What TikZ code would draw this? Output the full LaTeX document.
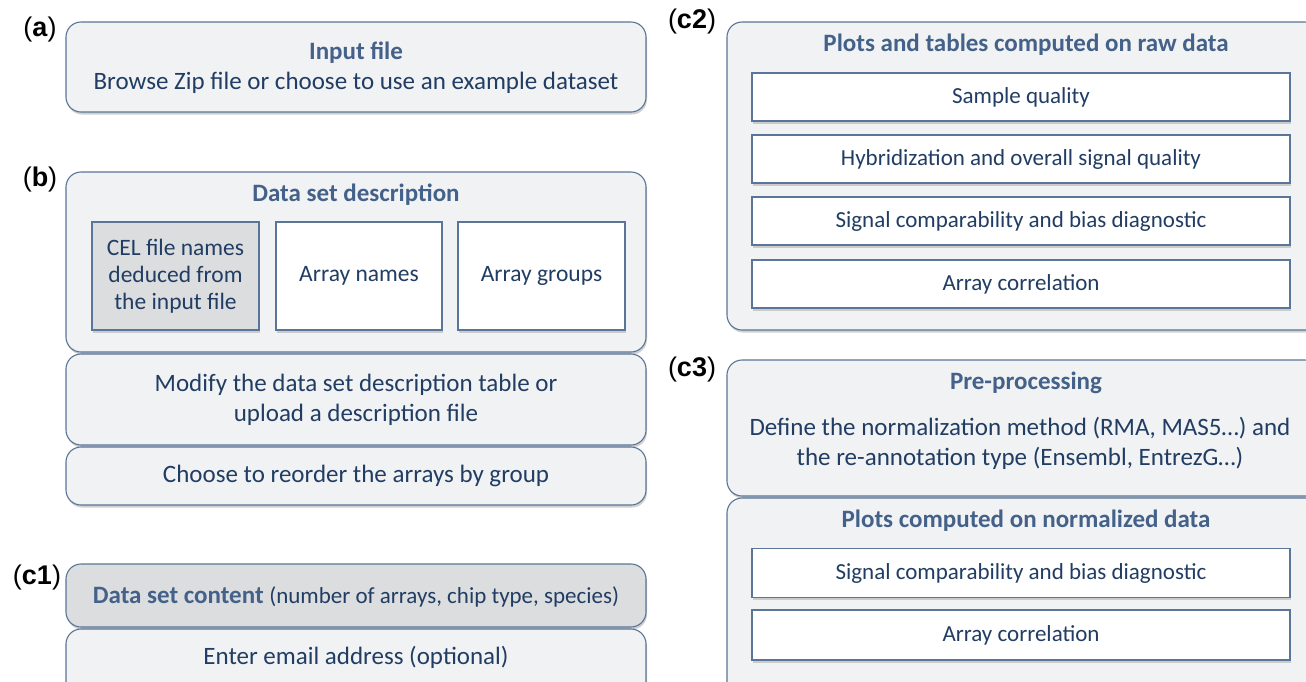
\documentclass[tikz,border=0pt]{standalone}
\usepackage{fontspec}
\setmainfont{Carlito}
\newfontfamily\labfont{Liberation Sans}
\usetikzlibrary{shadows}
\definecolor{edge}{HTML}{5A7597}
\definecolor{panel}{HTML}{F1F2F3}
\definecolor{greyfill}{HTML}{DCDDDF}
\definecolor{titlecol}{HTML}{44618A}
\definecolor{textcol}{HTML}{213D63}
\tikzset{
  x=1pt, y=-1pt,
  panelbox/.style={draw=edge, line width=1.1pt, fill=panel, rounded corners=15pt,
    drop shadow={shadow xshift=1pt, shadow yshift=-2.5pt, fill=black!30, opacity=0.6},
    inner sep=0pt},
  itembox/.style={draw=edge, line width=1.1pt, fill=white,
    drop shadow={shadow xshift=1pt, shadow yshift=-2.5pt, fill=black!30, opacity=0.6},
    inner sep=0pt},
  title/.style={text=titlecol, font=\fontsize{25}{30}\selectfont\bfseries, inner sep=0pt},
  body/.style={text=textcol, font=\fontsize{25}{30}\selectfont, align=center, inner sep=0pt},
  tight/.style={text=textcol, font=\fontsize{23.5}{27}\selectfont, align=center, inner sep=0pt},
  small/.style={text=textcol, font=\fontsize{23}{26}\selectfont, align=center, inner sep=0pt},
  panellabel/.style={font=\labfont\fontsize{27}{30}\selectfont, inner sep=0pt},
}
\begin{document}
\begin{tikzpicture}
\useasboundingbox[fill=white] (0,0) rectangle (1306,681);
\clip (0,0) rectangle (1306,681);

% (a) input file
\node[panellabel] (la) at (40,30) {(\textbf{a})};
\node[panelbox, minimum width=580pt, minimum height=90pt] (a) at (356,67) {};
\node[title] (at) at (356,53) {Input file};
\node[body] (ab) at (356,83) {Browse Zip file or choose to use an example dataset};

% (b) data set description
\node[panellabel] (lb) at (40,180) {(\textbf{b})};
\node[panelbox, minimum width=580pt, minimum height=180pt] (b) at (356,262) {};
\node[title] (bt) at (356,195) {Data set description};
\node[itembox, fill=greyfill, minimum width=167pt, minimum height=108pt] (cel) at (175.5,276) {};
\node[tight] (celt) at (cel.center) {CEL file names\\deduced from\\the input file};
\node[itembox, minimum width=166pt, minimum height=108pt] (names) at (359,276) {};
\node[tight] (namest) at (names.center) {Array names};
\node[itembox, minimum width=167pt, minimum height=108pt] (groups) at (541.5,276) {};
\node[tight] (groupst) at (groups.center) {Array groups};

\node[panelbox, minimum width=580pt, minimum height=91pt] (mod) at (356,399.5) {};
\node[body] (modt) at (356,400) {Modify the data set description table or\\upload a description file};
\node[panelbox, minimum width=580pt, minimum height=58pt] (ord) at (356,476) {};
\node[body] (ordt) at (356,476) {Choose to reorder the arrays by group};

% (c1) data set content
\node[panellabel] (lc1) at (37,578) {(\textbf{c1})};
\node[panelbox, fill=greyfill, minimum width=580pt, minimum height=63pt] (cont) at (356,595.5) {};
\node[body] (contt) at (356,597) {\textcolor{titlecol}{\bfseries Data set content} {\fontsize{23}{26}\selectfont(number of arrays, chip type, species)}};
\node[panelbox, minimum width=580pt, minimum height=70pt] (mail) at (356,664) {};
\node[body] (mailt) at (356,657) {Enter email address (optional)};

% (c2) raw data plots
\node[panellabel] (lc2) at (692,22) {(\textbf{c2})};
\node[panelbox, minimum width=593pt, minimum height=308pt] (c2) at (1023.5,176) {};
\node[title] (c2t) at (1026,45) {Plots and tables computed on raw data};
\node[itembox, minimum width=538pt, minimum height=48pt] (q1) at (1021,97) {};
\node[small] (q1t) at (q1.center) {Sample quality};
\node[itembox, minimum width=538pt, minimum height=48pt] (q2) at (1021,159) {};
\node[small] (q2t) at (q2.center) {Hybridization and overall signal quality};
\node[itembox, minimum width=538pt, minimum height=48pt] (q3) at (1021,221) {};
\node[small] (q3t) at (q3.center) {Signal comparability and bias diagnostic};
\node[itembox, minimum width=538pt, minimum height=48pt] (q4) at (1021,284) {};
\node[small] (q4t) at (q4.center) {Array correlation};

% (c3) pre-processing and normalized plots
\node[panellabel] (lc3) at (692,370) {(\textbf{c3})};
\node[panelbox, minimum width=593pt, minimum height=136pt] (pre) at (1023.5,428) {};
\node[title] (pret) at (1026,383) {Pre-processing};
\node[body] (preb) at (1020,443) {Define the normalization method (RMA, MAS5…) and\\the re-annotation type (Ensembl, EntrezG…)};
\node[panelbox, minimum width=593pt, minimum height=202pt] (norm) at (1023.5,599) {};
\node[title] (normt) at (1026,521) {Plots computed on normalized data};
\node[itembox, minimum width=538pt, minimum height=49pt] (n1) at (1021,573) {};
\node[small] (n1t) at (n1.center) {Signal comparability and bias diagnostic};
\node[itembox, minimum width=538pt, minimum height=50pt] (n2) at (1021,635) {};
\node[small] (n2t) at (n2.center) {Array correlation};
\end{tikzpicture}
\end{document}
